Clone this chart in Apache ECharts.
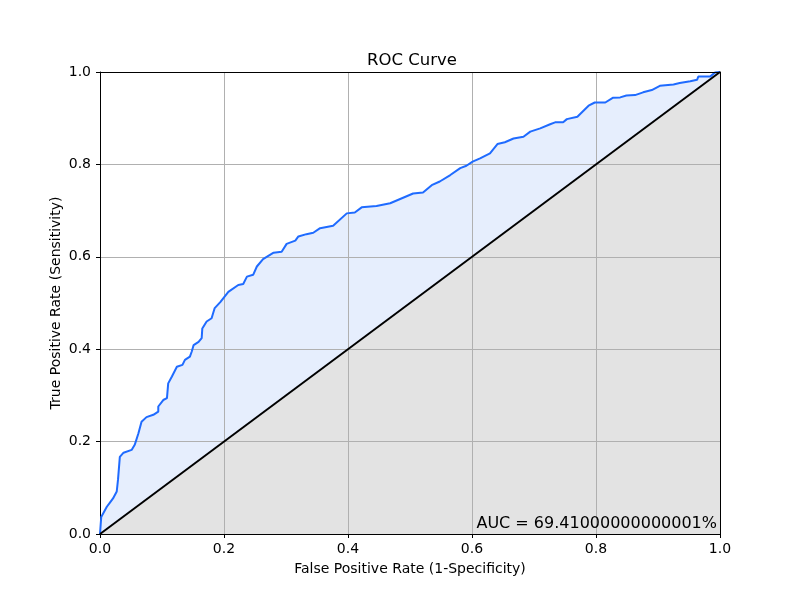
<!DOCTYPE html>
<html>
<head>
<meta charset="utf-8">
<script src="https://cdn.jsdelivr.net/npm/echarts@6/dist/echarts.min.js"></script>
<style>html,body{margin:0;padding:0;background:#fff;}#c{width:800px;height:600px;}</style>
</head>
<body>
<div id="c"></div>
<script>
const fpr = [0,0.002,0.011,0.016,0.021,0.027,0.029,0.032,0.038,0.051,0.056,0.062,0.067,0.075,0.086,0.094,0.094,0.102,0.108,0.110,0.116,0.124,0.133,0.137,0.145,0.148,0.151,0.159,0.164,0.165,0.172,0.180,0.185,0.194,0.207,0.223,0.231,0.237,0.247,0.253,0.263,0.280,0.293,0.301,0.315,0.320,0.333,0.344,0.355,0.376,0.398,0.411,0.422,0.446,0.468,0.505,0.521,0.535,0.548,0.565,0.581,0.591,0.601,0.613,0.629,0.641,0.653,0.667,0.683,0.694,0.710,0.726,0.734,0.747,0.753,0.770,0.788,0.798,0.815,0.827,0.839,0.849,0.863,0.876,0.890,0.903,0.925,0.935,0.952,0.963,0.965,0.984,0.992,1.0];
const tpr = [0,0.037,0.059,0.068,0.077,0.092,0.117,0.167,0.176,0.182,0.193,0.218,0.243,0.253,0.258,0.265,0.276,0.290,0.294,0.326,0.341,0.362,0.366,0.377,0.384,0.395,0.409,0.416,0.424,0.445,0.460,0.467,0.489,0.502,0.524,0.539,0.541,0.557,0.561,0.579,0.595,0.609,0.611,0.628,0.635,0.644,0.649,0.652,0.662,0.667,0.694,0.696,0.707,0.710,0.716,0.737,0.739,0.755,0.763,0.777,0.792,0.797,0.806,0.813,0.824,0.844,0.848,0.856,0.860,0.871,0.878,0.887,0.891,0.891,0.898,0.903,0.927,0.934,0.934,0.944,0.945,0.949,0.950,0.956,0.961,0.970,0.973,0.976,0.980,0.983,0.990,0.990,0.999,1.0];
const diagX = [0, 1];
const diagY = [0, 1];
const aucText = 'AUC = 69.41000000000001%';
const titleText = 'ROC Curve';
const xName = 'False Positive Rate (1-Specificity)';
const yName = 'True Positive Rate (Sensitivity)';

const roc = fpr.map((x, i) => [x, tpr[i]]);
const diag = diagX.map((x, i) => [x, diagY[i]]);
const font = 'DejaVu Sans';

const chart = echarts.init(document.getElementById('c'));
const axisCommon = {
  type: 'value', min: 0, max: 1, interval: 0.2, z: 3,
  axisLine: { show: true, onZero: false, lineStyle: { color: '#000', width: 1 } },
  axisTick: { show: true, inside: false, length: 4, lineStyle: { color: '#000' } },
  axisLabel: { color: '#000', fontFamily: font, fontSize: 14, formatter: v => v.toFixed(1) },
  splitLine: { show: true, lineStyle: { color: '#b0b0b0', width: 1 } },
  nameLocation: 'middle',
  nameMoveOverlap: false,
  nameTextStyle: { color: '#000', fontFamily: font, fontSize: 14 }
};
const frameAxis = {
  type: 'value', min: 0, max: 1, z: 5,
  axisLine: { show: true, onZero: false, lineStyle: { color: '#000', width: 1 } },
  axisTick: { show: false }, axisLabel: { show: false }, splitLine: { show: false }
};
chart.setOption({
  animation: false,
  backgroundColor: '#fff',
  title: { text: titleText, left: 362, top: 47,
    textStyle: { fontFamily: font, fontSize: 16.5, fontWeight: 'normal', color: '#000' } },
  grid: { left: 100, right: 80, top: 72, bottom: 66 },
  xAxis: [
    Object.assign({}, axisCommon, { name: xName, nameGap: 28, axisLabel: Object.assign({}, axisCommon.axisLabel, { margin: 8 }) }),
    Object.assign({}, frameAxis, { position: 'top' })
  ],
  yAxis: [
    Object.assign({}, axisCommon, { name: yName, nameGap: 37, axisLabel: Object.assign({}, axisCommon.axisLabel, { margin: 9 }) }),
    Object.assign({}, frameAxis, { position: 'right' })
  ],
  graphic: [{
    type: 'text', right: 83, top: 516, z: 10,
    style: { text: aucText, fontFamily: font, fontSize: 16, fill: '#000' }
  }],
  series: [
    { type: 'line', data: roc, showSymbol: false, z: 1, lineStyle: { width: 0, opacity: 0 },
      areaStyle: { color: '#e6eefd', opacity: 1 } },
    { type: 'line', data: diag, showSymbol: false, z: 2, lineStyle: { width: 0, opacity: 0 },
      areaStyle: { color: '#e3e3e3', opacity: 1 } },
    { type: 'line', data: roc, showSymbol: false, z: 4, lineStyle: { color: '#1f6bff', width: 2 } },
    { type: 'line', data: diag, showSymbol: false, z: 4, lineStyle: { color: '#000', width: 2 } }
  ]
});
</script>
</body>
</html>
